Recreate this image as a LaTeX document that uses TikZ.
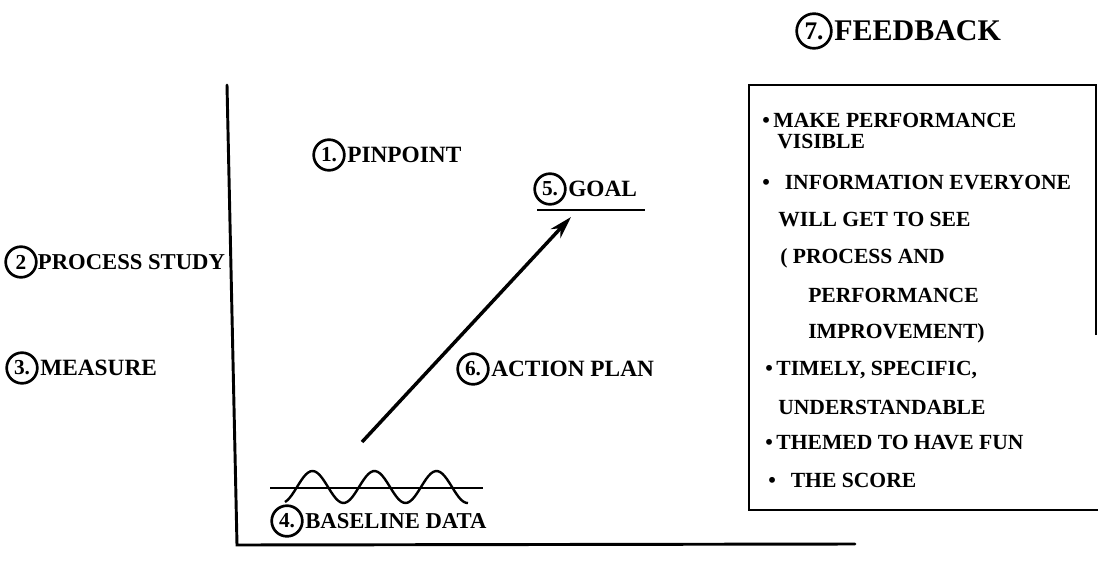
\documentclass[tikz,border=0pt]{standalone}
\usepackage{fontspec}
\setmainfont{Liberation Serif}
\usetikzlibrary{arrows.meta,positioning}
\begin{document}
\begin{tikzpicture}[x=0.75pt,y=-0.75pt,
  num/.style={circle,draw,line width=2pt,inner sep=0pt,minimum size=23pt,font=\bfseries\fontsize{16}{16}\selectfont},
  lab/.style={inner sep=0pt,anchor=west,font=\bfseries\fontsize{17.5}{20}\selectfont},
  big/.style={inner sep=0pt,anchor=west,font=\bfseries\fontsize{22.5}{26}\selectfont},
  box/.style={inner sep=0pt,anchor=west,font=\bfseries\fontsize{16.2}{18}\selectfont},
  heavy/.style={line width=2.2pt}]
\useasboundingbox (0,0) rectangle (1098,577);
% axes
\coordinate (ytop) at (227,85);
\coordinate (orig) at (237,545);
\coordinate (xend) at (855,544);
\draw[heavy,line cap=round] (ytop) -- (orig) -- (xend);
% labels
\node[num] (n1) at (329,155) {1.};
\node[lab,right=1pt of n1] (t1) {PINPOINT};
\node[num] (n2) at (21,262) {2};
\node[lab,right=0pt of n2,font=\bfseries\fontsize{17}{20}\selectfont] (t2) {PROCESS STUDY};
\node[num] (n3) at (22,368) {3.};
\node[lab,right=1pt of n3] (t3) {MEASURE};
\node[num] (n5) at (550,189) {5.};
\node[lab,right=1pt of n5] (t5) {GOAL};
\coordinate (gl) at (537,210);
\coordinate (gr) at (645,210);
\draw[heavy] (gl) -- (gr);
\node[num] (n6) at (473,369) {6.};
\node[lab,right=1pt of n6] (t6) {ACTION PLAN};
\node[num] (n4) at (287,521) {4.};
\node[lab,right=1pt of n4,font=\bfseries\fontsize{17}{20}\selectfont] (t4) {BASELINE DATA};
% arrow
\coordinate (as) at (362,442);
\coordinate (ae) at (571,217);
\draw[line width=2.6pt,-{Stealth[length=17pt,width=10pt]}] (as) -- (ae);
% baseline wave
\coordinate (bl) at (270,488);
\coordinate (br) at (483,488);
\draw[heavy] (bl) -- (br);
\draw[line width=1.8pt,domain=285:468,samples=80,smooth] plot (\x,{487-16*sin(5.80645*(\x-297))});
% feedback
\node[num,minimum size=26pt,font=\bfseries\fontsize{19}{19}\selectfont] (n7) at (814,31) {7.};
\node[big,right=1pt of n7] (t7) {FEEDBACK};
% box
\coordinate (c1) at (1096,335);
\coordinate (c2) at (1096,85);
\coordinate (c3) at (749,85);
\coordinate (c4) at (749,510);
\coordinate (c5) at (1098,510);
\draw[heavy] (c1) -- (c2) -- (c3) -- (c4) -- (c5);
\node[box] (b1) at (762,120) {•\,MAKE PERFORMANCE};
\node[box] (b2) at (777,142) {VISIBLE};
\node[box] (b3) at (762,183) {•\;\, INFORMATION EVERYONE};
\node[box] (b4) at (778,220) {WILL GET TO SEE};
\node[box] (b5) at (780,258) {( PROCESS AND};
\node[box] (b6) at (808,295) {PERFORMANCE};
\node[box] (b7) at (808,333) {IMPROVEMENT)};
\node[box] (b8) at (765,370) {•\,TIMELY, SPECIFIC,};
\node[box] (b9) at (778,407) {UNDERSTANDABLE};
\node[box] (b10) at (765,443) {•\,THEMED TO HAVE FUN};
\node[box] (b11) at (768,480) {•\;\, THE SCORE};
\end{tikzpicture}
\end{document}
